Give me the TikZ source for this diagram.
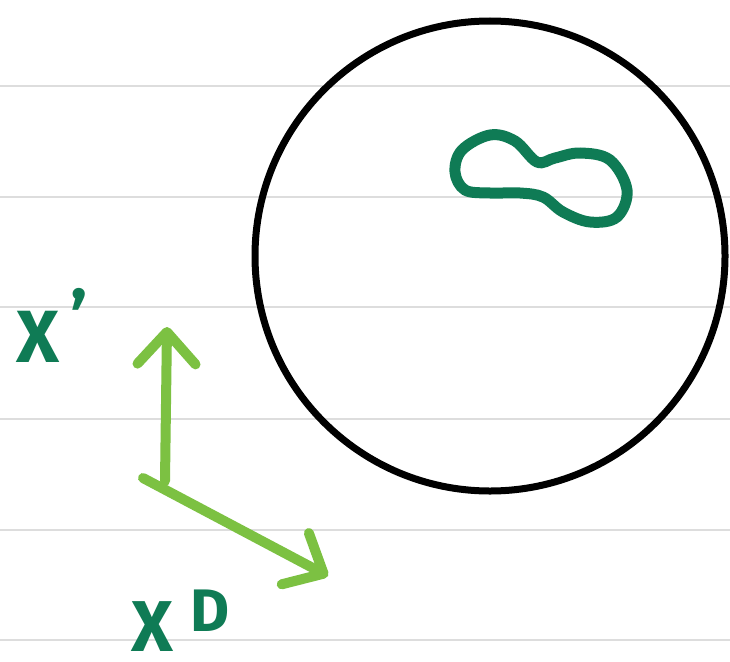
\documentclass[tikz,border=0pt]{standalone}
\usepackage{fontspec}
\setmainfont{Fira Sans}
\usetikzlibrary{arrows.meta}
\definecolor{lightgr}{HTML}{7CC142}
\definecolor{darkgr}{HTML}{0F7B55}
\definecolor{ruleg}{HTML}{DDDDDD}
\tikzset{
  ruleline/.style={draw=ruleg, line width=2pt},
  axisarrow/.style={draw=lightgr, line width=10pt, line cap=round,
    -{Straight Barb[length=32pt,width=58pt,round]}},
  lbl/.style={text=darkgr, font=\fontsize{74}{74}\selectfont\bfseries, inner sep=0pt, anchor=base, text depth=0pt},
}
\begin{document}
\begin{tikzpicture}[x=1pt,y=-1pt]
\useasboundingbox (0,0) rectangle (730,661);
\fill[white] (0,0) rectangle (730,661);
\foreach \yy in {86,197,307,419,530,640} \draw[ruleline] (0,\yy) -- (730,\yy);
% sphere
\node[circle, draw=black, line width=7pt, minimum size=470pt, inner sep=0pt] (ball) at (490,256) {};
% blob
\draw[darkgr, line width=11pt] plot[smooth cycle, tension=0.6] coordinates {
  (455,172) (462,150) (490,135) (515,141) (537,162) (555,158) (580,153) (610,160)
  (627,190) (617,217) (590,222) (563,212) (543,197) (520,193) (490,193) (465,190)};
% axes
\coordinate (vbase) at (165,481);
\coordinate (vtip) at (167,327);
\coordinate (dbase) at (143,478);
\coordinate (dtip) at (328,576);
\draw[axisarrow] (vbase) -- (vtip);
\draw[axisarrow] (dbase) -- (dtip);
% labels
\node[lbl] (xone) at (38,362) {X};
\node[lbl, font=\fontsize{72}{72}\selectfont\bfseries] (prime) at (79,343) {'};
\node[lbl, font=\fontsize{72}{72}\selectfont\bfseries] (xd) at (152,651) {X};
\node[lbl, font=\fontsize{60}{60}\selectfont\bfseries] (dsup) at (210,631) {D};
\end{tikzpicture}
\end{document}
